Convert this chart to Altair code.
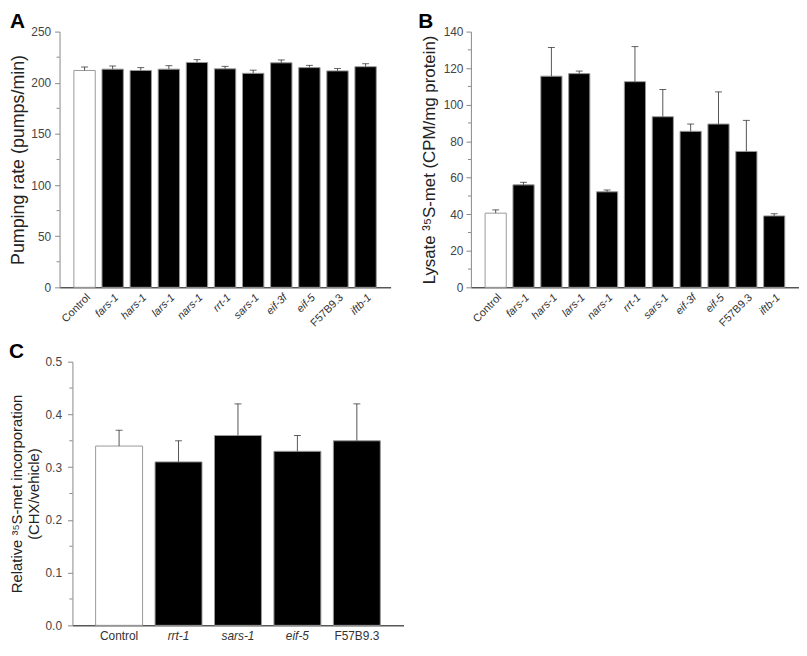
import altair as alt
import pandas as pd

# ---- data ----
cats_ab = ["Control", "fars-1", "hars-1", "lars-1", "nars-1", "rrt-1",
           "sars-1", "eif-3f", "eif-5", "F57B9.3", "iftb-1"]
pump = [212.0, 213.3, 212.0, 213.3, 219.8, 213.6, 209.2, 219.5, 214.8, 211.6, 215.7]
pump_err = [3.4, 3.1, 2.8, 3.4, 2.8, 2.4, 3.1, 2.8, 2.2, 2.3, 2.9]
lysate = [40.6, 56.1, 115.6, 117.0, 52.3, 112.6, 93.4, 85.4, 89.4, 74.4, 39.1]
lysate_err = [1.8, 1.4, 15.7, 1.4, 1.0, 19.2, 14.9, 4.0, 17.6, 17.0, 1.2]
cats_c = ["Control", "rrt-1", "sars-1", "eif-5", "F57B9.3"]
rel = [0.34, 0.31, 0.36, 0.33, 0.35]
rel_err = [0.03, 0.04, 0.06, 0.03, 0.07]

# axis ticks
ticks_a = [0, 50, 100, 150, 200, 250]
minor_a = [25, 75, 125, 175, 225]
ticks_b = [0, 20, 40, 60, 80, 100, 120, 140]
minor_b = [10, 30, 50, 70, 90, 110, 130]
ticks_c = [0.0, 0.1, 0.2, 0.3, 0.4, 0.5]
minor_c = [0.05, 0.15, 0.25, 0.35, 0.45]

FONT = "Liberation Sans"


def panel(cats, vals, errs, ytitle, ymax, majors, minors, fmt, letter,
          letter_x, w, h, p_inner, p_outer, rotate, title_pad, title_size,
          label_pad, gap_x=None):
    df = pd.DataFrame({"cat": cats, "val": vals,
                       "up": [v + e for v, e in zip(vals, errs)]})
    italic_test = "datum.value == 'Control' || datum.value == 'F57B9.3'"
    xaxis = alt.Axis(
        title=None, ticks=False, domainColor="#000", domainWidth=1,
        labelAngle=-45 if rotate else 0,
        labelAlign="right" if rotate else "center",
        labelBaseline="top",
        labelFontSize=11 if rotate else 12,
        labelPadding=4 if rotate else 5,
        labelColor="#333", labelFont=FONT,
        labelFontStyle={"condition": {"test": italic_test, "value": "normal"},
                        "value": "italic"},
    )
    xscale = alt.Scale(paddingInner=p_inner, paddingOuter=p_outer)
    x = alt.X("cat:N", sort=cats, axis=xaxis, scale=xscale, title=None)
    yaxis = alt.Axis(
        title=ytitle, values=majors, format=fmt, grid=False,
        labelOverlap=False,
        domainColor="#888", tickColor="#888", tickSize=5,
        labelFontSize=12, labelColor="#444", labelFont=FONT,
        labelPadding=label_pad,
        titleFontSize=title_size, titleFontWeight="normal", titleColor="#222",
        titleFont=FONT, titlePadding=title_pad,
    )
    yscale = alt.Scale(domain=[0, ymax], nice=False, zero=True)

    def yenc(field):
        return alt.Y(field, axis=yaxis, scale=yscale, title=ytitle)

    bars = alt.Chart(df).mark_bar(stroke="#999", strokeWidth=1).encode(
        x=x, y=yenc("val:Q"),
        fill=alt.condition("datum.cat == 'Control'", alt.value("white"),
                           alt.value("black")),
    )
    err = alt.Chart(df).mark_rule(color="#555", strokeWidth=1).encode(
        x=x, y=yenc("val:Q"), y2="up:Q")
    cap = alt.Chart(df).mark_tick(color="#222", size=7, thickness=1).encode(
        x=x, y=yenc("up:Q"))
    mdf = pd.DataFrame({"m": minors})
    mticks = alt.Chart(mdf).mark_rule(color="#888", strokeWidth=1).encode(
        x=alt.value(-3), x2=alt.value(0), y=yenc("m:Q"))
    lab = alt.Chart(pd.DataFrame({"t": [letter]})).mark_text(
        align="left", baseline="alphabetic", fontSize=21, fontWeight="bold",
        font=FONT, color="#000",
    ).encode(x=alt.value(letter_x), y=alt.value(-4), text="t:N")
    layers = [bars, err, cap, mticks, lab]
    if gap_x is not None:
        # invisible element that reserves the gap between panels
        layers.append(alt.Chart(pd.DataFrame({"t": [letter]})).mark_rule(
            opacity=0).encode(x=alt.value(gap_x), x2=alt.value(gap_x + 1),
                              y=alt.value(0)))
    return alt.layer(*layers).properties(width=w, height=h)


def spacer():
    return alt.Chart(pd.DataFrame({"t": [""]})).mark_rule(opacity=0).encode(
        x=alt.value(0), x2=alt.value(1), y=alt.value(0)
    ).properties(width=1, height=1)


A = panel(cats_ab, pump, pump_err, "Pumping rate (pumps/min)", 250,
          ticks_a, minor_a, "d", "A", -50, 334, 258, 0.24, 0.51, True,
          3, 18, 4)
B = panel(cats_ab, lysate, lysate_err, "Lysate ³⁵S-met (CPM/mg protein)", 140,
          ticks_b, minor_b, "d", "B", -53, 331, 258, 0.24, 0.51, True,
          5, 17, 3, gap_x=-81)
C = panel(cats_c, rel, rel_err,
          ["Relative ³⁵S-met incorporation", "(CHX/vehicle)"], 0.5,
          ticks_c, minor_c, ".1f", "C", -64, 334, 266, 0.21, 0.39, False,
          4, 15, 6)

chart = alt.vconcat(
    alt.hconcat(spacer(), A, B, spacing=0),
    alt.hconcat(spacer(), C, spacing=0),
    spacing=12,
).properties(
    padding={"left": 0, "top": 0, "right": 0, "bottom": 0},
    background="white",
).configure_view(stroke=None)

chart.save("out.html", embed_options={"renderer": "svg", "actions": False})
